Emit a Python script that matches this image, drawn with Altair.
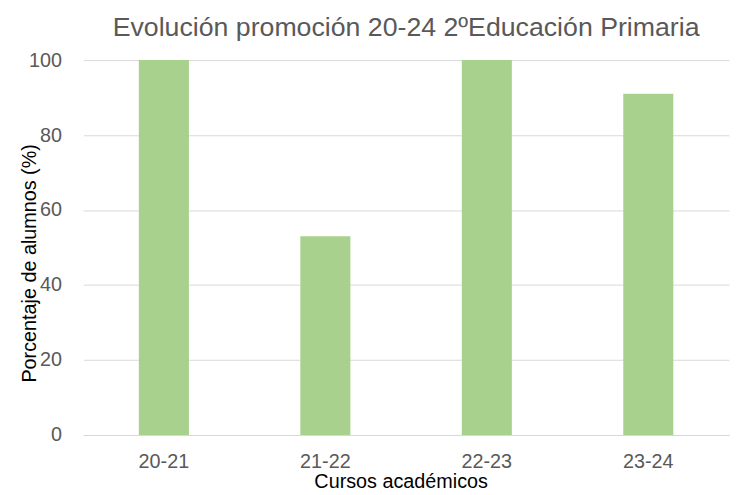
import altair as alt
import pandas as pd

cursos = ["20-21", "21-22", "22-23", "23-24"]
porcentajes = [100, 53, 100, 91]

df = pd.DataFrame({"curso": cursos, "pct": porcentajes})

FONT = "Liberation Sans"

chart = alt.Chart(df).mark_bar(color="#A9D18E").encode(
    x=alt.X("curso:N", sort=cursos,
            scale=alt.Scale(paddingInner=0.69, paddingOuter=0.345),
            axis=alt.Axis(title="Cursos académicos", labelAngle=0, ticks=False,
                          domainColor="#D9D9D9", labelColor="#595959",
                          labelFontSize=20, labelPadding=17, labelFont=FONT,
                          titleFont=FONT, titleFontSize=20, titleFontWeight="normal",
                          titleColor="#000000", titleX=321, titleY=47,
                          titleBaseline="middle", titleAnchor="middle")),
    y=alt.Y("pct:Q", scale=alt.Scale(domain=[0, 100], nice=False),
            axis=alt.Axis(title="Porcentaje de alumnos (%)", values=[0, 20, 40, 60, 80, 100],
                          ticks=False, domain=False, gridColor="#D9D9D9",
                          labelColor="#595959", labelFontSize=20, labelPadding=22,
                          labelFont=FONT, titleFont=FONT, titleFontSize=20,
                          titleFontWeight="normal", titleColor="#000000",
                          titleX=-54, titleY=205, titleBaseline="middle",
                          titleAngle=-90, titleAnchor="middle")),
).properties(
    width=653, height=379,
    title=alt.TitleParams("Evolución promoción 20-24 2ºEducación Primaria",
                          font=FONT, fontSize=27, fontWeight="normal",
                          color="#595959", anchor="middle", offset=8),
    autosize=alt.AutoSizeParams(type="none"),
    padding={"left": 76, "top": 50, "right": 1, "bottom": 58},
).configure_view(stroke=None)

chart.save("out.html", embed_options={"renderer": "svg", "actions": False})
